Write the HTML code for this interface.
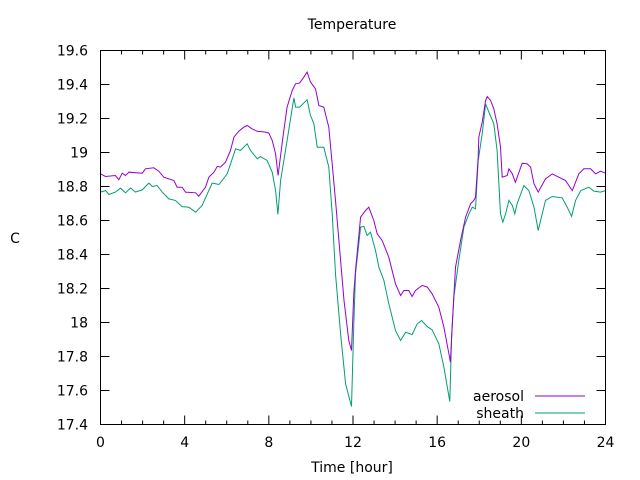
<!DOCTYPE html>
<html><head><meta charset="utf-8"><style>
html,body{margin:0;padding:0;background:#fff;}
svg{display:block;font-family:"DejaVu Sans","Liberation Sans",sans-serif;}
</style></head><body>
<svg id="chart" width="640" height="480" viewBox="0 0 640 480" xmlns="http://www.w3.org/2000/svg">
<rect width="640" height="480" fill="#fff"/>
<text x="352" y="29" font-size="14" text-anchor="middle">Temperature</text>
<text x="15" y="243" font-size="14" text-anchor="middle">C</text>
<text x="352" y="472" font-size="14" text-anchor="middle">Time [hour]</text>
<g id="axes"></g>
<g id="series"></g>
<g>
<text x="524" y="401" font-size="14" text-anchor="end">aerosol</text>
<line x1="535" y1="396" x2="585" y2="396" stroke="#9400d3" stroke-width="1"/>
<text x="524" y="418" font-size="14" text-anchor="end">sheath</text>
<line x1="535" y1="413" x2="585" y2="413" stroke="#009e73" stroke-width="1"/>
</g>
<rect x="100.5" y="50.5" width="505" height="374" fill="none" stroke="#000" stroke-width="1"/>
</svg>
<script>
const xTicks = [0,4,8,12,16,20,24];
const yTicks = [17.4,17.6,17.8,18,18.2,18.4,18.6,18.8,19,19.2,19.4,19.6];
const yTickLabels = ["17.4","17.6","17.8","18","18.2","18.4","18.6","18.8","19","19.2","19.4","19.6"];
const aerosolT = [0,0.24,0.71,0.87,1.03,1.19,1.35,1.98,2.14,2.53,2.77,3.01,3.49,3.64,3.88,4.04,4.52,4.67,4.99,5.15,5.39,5.55,5.70,5.94,6.18,6.34,6.57,6.81,6.97,7.21,7.45,7.84,8.0,8.16,8.32,8.44,8.57,8.71,8.87,9.11,9.27,9.46,9.66,9.82,9.98,10.22,10.38,10.61,10.85,11.01,11.17,11.33,11.57,11.8,11.93,12.04,12.12,12.36,12.6,12.75,12.99,13.15,13.39,13.7,14.02,14.26,14.42,14.65,14.81,14.97,15.29,15.53,15.76,16.08,16.32,16.56,16.63,16.71,16.87,17.11,17.35,17.59,17.74,17.82,17.95,17.98,18.14,18.3,18.38,18.54,18.69,18.85,19.01,19.09,19.33,19.41,19.57,19.72,20.04,20.28,20.44,20.6,20.8,21.15,21.47,21.78,22.1,22.42,22.73,22.97,23.29,23.53,23.76,24.0];
const aerosolV = [18.875,18.859,18.865,18.84,18.878,18.865,18.884,18.878,18.904,18.91,18.89,18.855,18.835,18.796,18.796,18.767,18.763,18.743,18.796,18.855,18.884,18.918,18.914,18.943,19.012,19.09,19.125,19.149,19.159,19.139,19.125,19.12,19.114,19.071,18.992,18.865,18.992,19.129,19.267,19.365,19.404,19.408,19.443,19.473,19.414,19.375,19.276,19.267,19.149,18.933,18.718,18.482,18.13,17.894,17.835,18.17,18.306,18.62,18.659,18.678,18.6,18.522,18.482,18.384,18.227,18.159,18.188,18.188,18.153,18.188,18.218,18.208,18.169,18.09,17.973,17.816,17.767,17.973,18.325,18.482,18.62,18.698,18.718,18.737,18.973,19.09,19.178,19.306,19.329,19.306,19.257,19.169,19.031,18.855,18.865,18.904,18.874,18.825,18.937,18.933,18.914,18.816,18.767,18.845,18.874,18.855,18.835,18.776,18.874,18.904,18.904,18.874,18.89,18.878];
const sheathT = [0,0.24,0.40,0.71,0.95,1.19,1.43,1.66,1.98,2.3,2.46,2.69,2.93,3.25,3.56,3.88,4.2,4.52,4.83,5.31,5.63,6.02,6.42,6.65,6.97,7.13,7.45,7.6,7.92,8.16,8.32,8.43,8.56,8.87,9.19,9.27,9.46,9.82,9.98,10.14,10.3,10.61,10.85,11.01,11.17,11.41,11.65,11.77,11.93,12.04,12.12,12.36,12.52,12.67,12.83,13.07,13.23,13.47,13.7,14.02,14.26,14.5,14.81,15.05,15.26,15.53,15.76,16.08,16.32,16.48,16.6,16.68,16.79,17.03,17.27,17.51,17.67,17.82,17.95,18.14,18.3,18.46,18.69,18.85,19.01,19.12,19.25,19.41,19.57,19.69,19.8,20.12,20.36,20.6,20.8,20.99,21.15,21.47,21.94,22.18,22.39,22.58,22.82,23.21,23.45,23.76,24.0];
const sheathV = [18.767,18.776,18.753,18.767,18.79,18.763,18.792,18.767,18.78,18.82,18.8,18.806,18.767,18.727,18.718,18.682,18.678,18.649,18.688,18.82,18.812,18.875,19.022,19.012,19.051,19.012,18.963,18.976,18.953,18.884,18.776,18.635,18.835,19.071,19.322,19.267,19.267,19.31,19.218,19.169,19.031,19.031,18.914,18.639,18.286,17.933,17.639,17.58,17.506,17.992,18.286,18.561,18.565,18.512,18.531,18.424,18.325,18.247,18.11,17.953,17.894,17.943,17.929,17.992,18.012,17.976,17.957,17.875,17.737,17.62,17.535,17.894,18.149,18.365,18.561,18.639,18.678,18.669,18.953,19.11,19.286,19.237,19.169,19.012,18.639,18.59,18.639,18.718,18.688,18.639,18.698,18.806,18.776,18.678,18.541,18.639,18.718,18.741,18.733,18.678,18.624,18.718,18.776,18.796,18.773,18.767,18.776];

const X0=100.5, X1=605.5, Y0=424.5, Y1=50.5;
const xMin=0,xMax=24,yMin=17.4,yMax=19.6;
function xs(t){return X0+(t-xMin)/(xMax-xMin)*(X1-X0);}
function ys(v){return Y0-(v-yMin)/(yMax-yMin)*(Y0-Y1);}
const NS="http://www.w3.org/2000/svg";
const axes=document.getElementById('axes');
function mk(tag,attrs,parent){const e=document.createElementNS(NS,tag);for(const k in attrs)e.setAttribute(k,attrs[k]);parent.appendChild(e);return e;}

for(let h=xMin;h<=xMax;h++){
  const major = xTicks.indexOf(h)>=0;
  const len = major?9:4;
  const x=xs(h);
  const t1=mk('line',{x1:x,y1:Y0,x2:x,y2:Y0-len,stroke:'#000'},axes);
  
  
  const t2=mk('line',{x1:x,y1:Y1,x2:x,y2:Y1+len,stroke:'#000'},axes);
  
  
}
xTicks.forEach(v=>{
  const tx=mk('text',{x:xs(v),y:447,'font-size':14,'text-anchor':'middle'},axes);
  tx.textContent=String(v);
  
  
});
yTicks.forEach((v,i)=>{
  const y=ys(v);
  const a=mk('line',{x1:X0,y1:y,x2:X0+9,y2:y,stroke:'#000'},axes);
  
  
  const b=mk('line',{x1:X1,y1:y,x2:X1-9,y2:y,stroke:'#000'},axes);
  
  
  const tx=mk('text',{x:88,y:y+5,'font-size':14,'text-anchor':'end'},axes);
  tx.textContent=yTickLabels[i];
  
  
});
const series=document.getElementById('series');
function line(T,V,color,name){
  let d='';
  for(let i=0;i<T.length;i++){d+=(i?'L':'M')+xs(T[i]).toFixed(1)+' '+ys(V[i]).toFixed(1);}
  const p=mk('path',{d:d,fill:'none',stroke:color,'stroke-width':1},series);
  
  
}
line(sheathT,sheathV,'#009e73','sheath-line');
line(aerosolT,aerosolV,'#9400d3','aerosol-line');
</script>
</body></html>
